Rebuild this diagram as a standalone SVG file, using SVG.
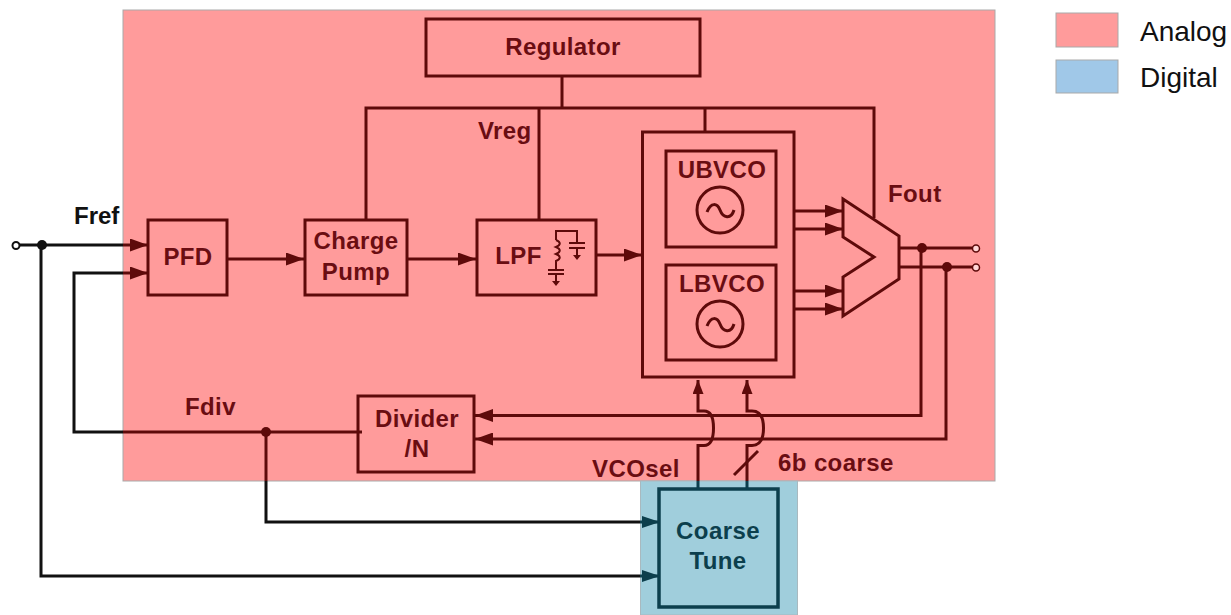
<svg xmlns="http://www.w3.org/2000/svg" width="1231" height="615" viewBox="0 0 1231 615">
<defs>
<marker id="ar" markerUnits="userSpaceOnUse" markerWidth="19" markerHeight="13" refX="18" refY="6.5" orient="auto"><path d="M0 0L18 6.5L0 13z" fill="#5e0a0a"/></marker>
<marker id="up" markerUnits="userSpaceOnUse" markerWidth="15" markerHeight="11" refX="14" refY="5.5" orient="auto"><path d="M0 0L14 5.5L0 11z" fill="#5e0a0a"/></marker>
<marker id="at" markerUnits="userSpaceOnUse" markerWidth="19" markerHeight="12" refX="18" refY="6" orient="auto"><path d="M0 0L18 6L0 12z" fill="#0c3f4d"/></marker>
</defs>
<style>
text{font-family:"Liberation Sans",Arial,sans-serif}
.b{font-weight:700;font-size:24px;letter-spacing:.4px;text-anchor:middle;fill:#6a0d12}
.l{font-weight:700;font-size:24px;letter-spacing:.4px;fill:#6a0d12}
.bk{font-weight:700;font-size:24px;fill:#111}
.tt{font-weight:700;font-size:24px;letter-spacing:.4px;text-anchor:middle;fill:#0c3f4d}
.box{fill:none;stroke:#5e0a0a;stroke-width:3}
.w{fill:none;stroke:#5e0a0a;stroke-width:3}
.k{fill:none;stroke:#111;stroke-width:3}
.t{fill:none;stroke:#0c3f4d;stroke-width:3}
.thin{fill:none;stroke:#5e0a0a;stroke-width:2}
.legend{font-size:28px;fill:#111}
</style>
<rect x="123" y="10" width="872" height="471" fill="#ff9b9b" stroke="#a9a9a9"/>
<rect x="640.5" y="481" width="157" height="134" fill="#a0cedc" stroke="#a9b9bf"/>
<g id="legend">
<rect x="1056" y="13" width="62" height="34" fill="#ff9b9b" stroke="#a9a9a9"/>
<text class="legend" x="1140" y="41">Analog</text>
<rect x="1056" y="60" width="62" height="33" fill="#a0c8e8" stroke="#a9a9a9"/>
<text class="legend" x="1140" y="87">Digital</text>
</g>
<g id="connectors">
<path class="w" d="M562 76V108M366 220V108H874V218M539 108V220M705 108V132"/>
<path class="k" d="M19 245H123M41 245V576H640M123 273H74V432H123M266 481V522H640"/>
<circle cx="16" cy="245.500" r="3.500" fill="#fff" stroke="#111" stroke-width="2"/>
<circle cx="42" cy="245" r="5" fill="#111"/>
<path class="w" d="M123 245H148" marker-end="url(#ar)"/>
<path class="w" d="M123 273H148" marker-end="url(#ar)"/>
<path class="w" d="M123 432H362"/>
<circle cx="266" cy="432" r="5" fill="#5e0a0a"/>
<path class="w" d="M266 432V481"/>
<path class="t" d="M640 522H660" marker-end="url(#at)"/>
<path class="t" d="M640 576H660" marker-end="url(#at)"/>
<path class="w" d="M227 259H304" marker-end="url(#ar)"/>
<path class="w" d="M407 259H476" marker-end="url(#ar)"/>
<path class="w" d="M596 255H642" marker-end="url(#ar)"/>
<path class="w" d="M794 211H843" marker-end="url(#ar)"/>
<path class="w" d="M794 229H843" marker-end="url(#ar)"/>
<path class="w" d="M794 291H843" marker-end="url(#ar)"/>
<path class="w" d="M794 309H843" marker-end="url(#ar)"/>
<path class="w" d="M899 248H973M899 267H973"/>
<circle cx="922" cy="248" r="5" fill="#5e0a0a"/>
<circle cx="947" cy="267" r="5" fill="#5e0a0a"/>
<circle cx="976" cy="248.500" r="3.500" fill="#ffd6d6" stroke="#5e0a0a" stroke-width="1.500"/>
<circle cx="976" cy="267.500" r="3.500" fill="#ffd6d6" stroke="#5e0a0a" stroke-width="1.500"/>
<path class="w" d="M921 248V415.500H475" marker-end="url(#ar)"/>
<path class="w" d="M946 267V439H475" marker-end="url(#ar)"/>
<path class="w" d="M698 481V445.500H704C712 445.500 713.500 437 713.500 428C713.500 419 712 411 704 411H698V380" marker-end="url(#up)"/>
<path class="w" d="M747 481V445.500H752C761 445.500 763.500 437 763.500 428C763.500 419 761 411 752 411H747V380" marker-end="url(#up)"/>
<path class="w" d="M734 475L758 451"/>
<path class="t" d="M698 481V489M747 481V489"/>
</g>
<g id="regulator"><rect class="box" x="426" y="19" width="274" height="57"/><text class="b" x="563" y="55">Regulator</text></g>
<g id="pfd"><rect class="box" x="148" y="220" width="79" height="75"/><text class="b" x="188" y="265">PFD</text></g>
<g id="charge-pump"><rect class="box" x="305" y="220" width="102" height="75"/><text class="b" x="356" y="249">Charge</text><text class="b" x="356" y="280">Pump</text></g>
<g id="lpf"><rect class="box" x="477" y="220" width="119" height="75"/><text class="b" x="518.500" y="264">LPF</text>
<path class="thin" d="M556 240V231H577V243M569 243H585M569 248H585M577 248V255M556 240C561 242 561 245 556 247C561 249 561 252 556 254C561 256 561 259 556 261V270M548 270H564M548 274H564M556 274V281"/><path d="M573 255H581L577 260zM552 281H560L556 286z" fill="#5e0a0a"/></g>
<g id="vco"><rect class="box" x="642.500" y="132" width="151.500" height="245"/></g>
<g id="ubvco"><rect class="box" x="666" y="151" width="110" height="96"/><text class="b" x="722" y="178">UBVCO</text><circle class="w" cx="720" cy="210" r="23"/><path class="w" d="M707 212C711 202 717 203 720 210C723 218 731 220 734 210"/></g>
<g id="lbvco"><rect class="box" x="666" y="265" width="110" height="95"/><text class="b" x="722" y="292">LBVCO</text><circle class="w" cx="720" cy="324" r="23"/><path class="w" d="M707 326C711 316 717 317 720 324C723 332 731 334 734 324"/></g>
<g id="mux"><path class="box" d="M843 199L899 236V279L843 316V277L874 257L843 237Z"/></g>
<g id="divider"><rect class="box" x="358" y="396" width="116" height="76"/><text class="b" x="417" y="427">Divider</text><text class="b" x="417" y="457">/N</text></g>
<g id="coarse-tune"><rect x="659" y="489" width="119" height="118" fill="none" stroke="#0c3f4d" stroke-width="3.500"/><text class="tt" x="718" y="539">Coarse</text><text class="tt" x="718" y="569">Tune</text></g>
<g id="labels">
<text class="bk" x="74" y="224">Fref</text>
<text class="l" x="478" y="139">Vreg</text>
<text class="l" x="888" y="202">Fout</text>
<text class="l" x="185" y="415">Fdiv</text>
<text class="l" x="592" y="477">VCOsel</text>
<text class="l" x="778" y="471">6b coarse</text>
</g>
</svg>
